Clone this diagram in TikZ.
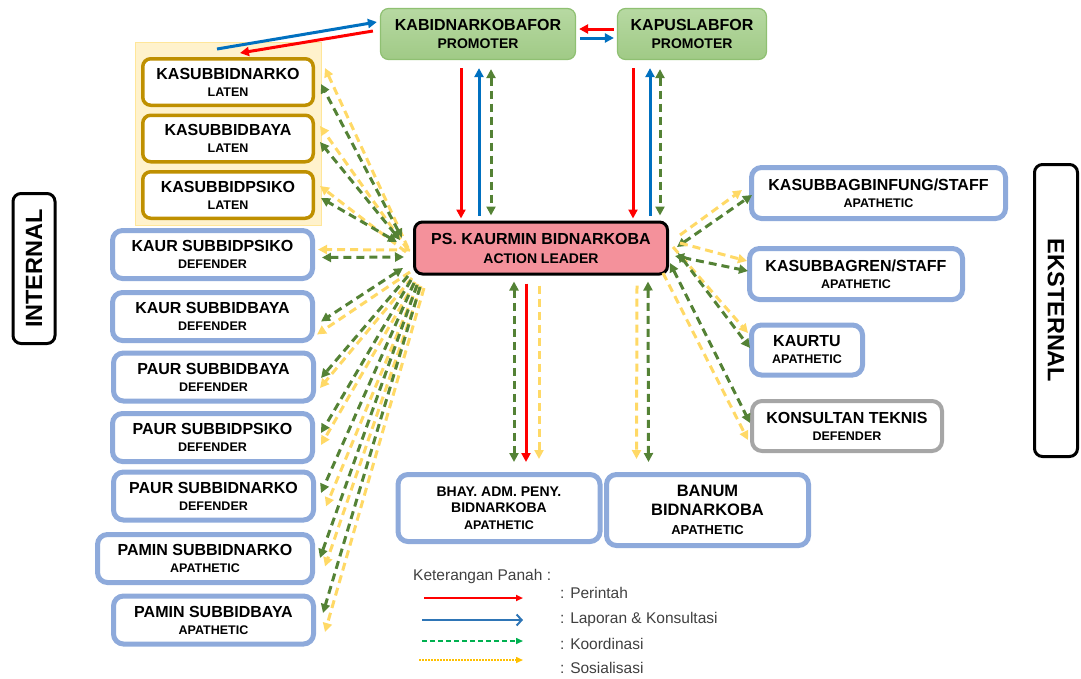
\documentclass[tikz,border=0pt]{standalone}
\usepackage{fontspec}
\setmainfont{Liberation Sans}
\usetikzlibrary{arrows.meta,calc}
\definecolor{bluebd}{HTML}{8EAADB}
\definecolor{goldbd}{HTML}{BF9000}
\definecolor{graybd}{HTML}{A6A6A6}
\definecolor{grn}{HTML}{548235}
\definecolor{ylw}{HTML}{FFD966}
\definecolor{rd}{HTML}{FF0000}
\definecolor{bl}{HTML}{0070C0}
\definecolor{leadfill}{HTML}{F4919B}
\definecolor{grpfill}{HTML}{FFF2CC}
\definecolor{grpbd}{HTML}{FFE699}
\definecolor{promtop}{HTML}{B7D9A2}
\definecolor{prombot}{HTML}{A0CA86}
\definecolor{prombd}{HTML}{8FC072}
\definecolor{legblue}{HTML}{2E75B6}
\definecolor{leggreen}{HTML}{00B050}
\definecolor{legyel}{HTML}{FFC000}
\definecolor{legtxt}{HTML}{404040}
\newcommand{\mytitle}{\fontsize{16}{17}\selectfont\bfseries}
\newcommand{\mysub}{\fontsize{12.5}{17}\selectfont\bfseries}
\tikzset{
  bbox/.style={draw=bluebd, line width=5pt, rounded corners=10pt, fill=white, align=center, inner sep=0pt, font=\mytitle},
  gbox/.style={draw=goldbd, line width=3.5pt, rounded corners=8pt, fill=white, align=center, inner sep=0pt,
     minimum width=170.5pt, minimum height=46.5pt, font=\mytitle},
  pbox/.style={draw=prombd, line width=1.2pt, rounded corners=8pt, top color=promtop, bottom color=prombot,
     align=center, inner sep=0pt, minimum height=51pt, font=\fontsize{16}{18}\selectfont\bfseries},
  sidebox/.style={draw=black, line width=3pt, rounded corners=8pt, fill=white, inner sep=0pt,
     font=\fontsize{23.5}{24}\selectfont\bfseries},
  gline/.style={draw=grn, line width=3pt, dash pattern=on 8pt off 5pt},
  yline/.style={draw=ylw, line width=3pt, dash pattern=on 8pt off 5pt},
  rline/.style={draw=rd, line width=3pt},
  bline/.style={draw=bl, line width=3pt},
  legtext/.style={text=legtxt, font=\fontsize{15.5}{17}\selectfont, inner sep=0pt, anchor=west},
  >={Triangle[length=9pt,width=9pt]}
}
\begin{document}
\begin{tikzpicture}[x=1pt,y=-1pt]
\useasboundingbox (0,0) rectangle (1081,678);

% group background
\node[draw=grpbd, line width=1pt, fill=grpfill, minimum width=186pt, minimum height=183pt, inner sep=0pt] (latengrp) at (228.5,134) {};

% top promoter boxes
\node[pbox, minimum width=195pt] (kabid) at (478,34) {KABIDNARKOBAFOR\\\fontsize{14}{17}\selectfont\bfseries PROMOTER};
\node[pbox, minimum width=149pt] (kapus) at (692,34) {KAPUSLABFOR\\\fontsize{14}{17}\selectfont\bfseries PROMOTER};

% laten boxes
\node[gbox] (ksnarko) at (228,82) {KASUBBIDNARKO\\\mysub LATEN};
\node[gbox] (ksbaya) at (228,138.5) {KASUBBIDBAYA\\\mysub LATEN};
\node[gbox] (kspsiko) at (228,195) {KASUBBIDPSIKO\\\mysub LATEN};

% internal boxes
\node[bbox, minimum width=200pt, minimum height=48pt] (kaurpsiko) at (212.5,254.5) {KAUR SUBBIDPSIKO\\\mysub DEFENDER};
\node[bbox, minimum width=200pt, minimum height=48pt] (kaurbaya) at (212.5,316.5) {KAUR SUBBIDBAYA\\\mysub DEFENDER};
\node[bbox, minimum width=200pt, minimum height=48pt] (paurbaya) at (213.5,377) {PAUR SUBBIDBAYA\\\mysub DEFENDER};
\node[bbox, minimum width=200pt, minimum height=48pt] (paurpsiko) at (212.5,437.5) {PAUR SUBBIDPSIKO\\\mysub DEFENDER};
\node[bbox, minimum width=200pt, minimum height=48pt] (paurnarko) at (213.5,496) {PAUR SUBBIDNARKO\\\mysub DEFENDER};
\node[bbox, minimum width=215pt, minimum height=48pt] (paminnarko) at (205,558.5) {PAMIN SUBBIDNARKO\\\mysub APATHETIC};
\node[bbox, minimum width=200pt, minimum height=48pt] (paminbaya) at (213.5,620) {PAMIN SUBBIDBAYA\\\mysub APATHETIC};

% side labels
\node[sidebox, rotate=90, minimum width=150pt, minimum height=42pt] (internal) at (34,268.5) {INTERNAL};
\node[sidebox, rotate=-90, minimum width=292pt, minimum height=43pt] (eksternal) at (1056,310.5) {EKSTERNAL};

% leader
\node[draw=black, line width=3pt, rounded corners=8pt, fill=leadfill, align=center, inner sep=0pt,
      minimum width=253pt, minimum height=52pt, font=\fontsize{16}{19}\selectfont\bfseries] (lead) at (541,248)
      {PS. KAURMIN BIDNARKOBA\\\fontsize{14}{19}\selectfont\bfseries ACTION LEADER};

% external boxes
\node[bbox, minimum width=254pt, minimum height=51pt] (binfung) at (878.5,193) {KASUBBAGBINFUNG/STAFF\\\mysub APATHETIC};
\node[bbox, minimum width=213pt, minimum height=51pt] (gren) at (856,274) {KASUBBAGREN/STAFF\\\mysub APATHETIC};
\node[bbox, minimum width=111pt, minimum height=50pt] (kaurtu) at (807,350) {KAURTU\\\mysub APATHETIC};
\node[bbox, draw=graybd, line width=4pt, minimum width=190pt, minimum height=50pt] (konsultan) at (847,426) {KONSULTAN TEKNIS\\\mysub DEFENDER};

% bottom boxes
\node[bbox, minimum width=202pt, minimum height=67pt, font=\fontsize{14}{16.5}\selectfont\bfseries] (bhay) at (499,508) {BHAY. ADM. PENY.\\BIDNARKOBA\\\mysub APATHETIC};
\node[bbox, minimum width=202pt, minimum height=71pt, font=\fontsize{16.5}{19}\selectfont\bfseries] (banum) at (707.5,510) {BANUM\\BIDNARKOBA\\\fontsize{13}{17}\selectfont\bfseries APATHETIC};

% ---- top arrows
\draw[bline,->] ($(latengrp.north west)+(82,7)$) -- ($(kabid.west)+(-3,-12)$);
\draw[rline,->] ($(kabid.west)+(-7,-3)$) -- ($(latengrp.north west)+(105,11)$);
\draw[rline,->] ($(kapus.west)+(-3,-5)$) -- ($(kabid.east)+(3,-5)$);
\draw[bline,->] ($(kabid.east)+(4,4)$) -- ($(kapus.west)+(-3,4)$);

% ---- vertical arrows top
\draw[rline,->] ($(kabid.south)+(-17,8)$) -- ($(lead.north)+(-80,-2)$);
\draw[bline,->] ($(lead.north)+(-62,-5)$) -- ($(kabid.south)+(1,8)$);
\draw[gline,<->] ($(kabid.south)+(13,9)$) -- ($(lead.north)+(-50,-5)$);
\draw[rline,->] ($(kapus.south)+(-59,8)$) -- ($(lead.north)+(92,-2)$);
\draw[bline,->] ($(lead.north)+(109,-5)$) -- ($(kapus.south)+(-42,8)$);
\draw[gline,<->] ($(kapus.south)+(-32,9)$) -- ($(lead.north)+(119,-5)$);

% ---- vertical arrows bottom
\draw[gline,<->] ($(lead.south)+(-27,6)$) -- ($(bhay.north)+(15,-10)$);
\draw[rline,->] ($(lead.south)+(-15,8)$) -- ($(bhay.north)+(27,-10)$);
\draw[yline,->] ($(lead.south)+(-2,10)$) -- ($(bhay.north)+(40,-13)$);
\draw[yline,->] ($(lead.south)+(96,10)$) -- ($(banum.north)+(-71,-13)$);
\draw[gline,<->] ($(lead.south)+(107,6)$) -- ($(banum.north)+(-59,-10)$);

% ---- left fan
\draw[yline,->] ($(lead.west)+(-5,0)$) -- ($(ksnarko.east)+(10,-14)$);
\draw[gline,<->] ($(lead.west)+(-11,-10)$) -- ($(ksnarko.east)+(6,2)$);
\draw[yline,->] ($(lead.west)+(-5,2)$) -- ($(ksbaya.east)+(5,-12.5)$);
\draw[gline,<->] ($(lead.west)+(-13,-8)$) -- ($(ksbaya.east)+(5,3.5)$);
\draw[yline,->] ($(lead.west)+(-7,4)$) -- ($(kspsiko.east)+(5,-9)$);
\draw[gline,<->] ($(lead.west)+(-16,-6)$) -- ($(kspsiko.east)+(6,3)$);
\draw[yline,->] ($(lead.west)+(-3,2)$) -- ($(kaurpsiko.east)+(3,-5)$);
\draw[gline,<->] ($(kaurpsiko.east)+(7,3)$) -- ($(lead.west)+(-9,9)$);
\draw[yline,->] ($(lead.west)+(-3,24)$) -- ($(kaurbaya.east)+(2,18)$);
\draw[gline,<->] ($(lead.west)+(-10,20)$) -- ($(kaurbaya.east)+(6,5)$);
\draw[yline,->] ($(lead.west)+(-1,30)$) -- ($(paurbaya.east)+(4,11)$);
\draw[gline,->] ($(lead.west)+(-5,28)$) -- ($(paurbaya.east)+(5,1)$);
\draw[yline,->] ($(lead.west)+(2,34)$) -- ($(paurpsiko.east)+(6,7.5)$);
\draw[gline,->] ($(lead.west)+(-2,32)$) -- ($(paurpsiko.east)+(6,-4.5)$);
\draw[yline,->] ($(lead.west)+(5,36)$) -- ($(paurnarko.east)+(10,10.5)$);
\draw[gline,->] ($(lead.west)+(1,35)$) -- ($(paurnarko.east)+(5,-3)$);
\draw[yline,->] ($(lead.west)+(8,38)$) -- ($(paminnarko.east)+(10,8)$);
\draw[gline,->] ($(lead.west)+(4,37)$) -- ($(paminnarko.east)+(5,-0.5)$);
\draw[yline,->] ($(lead.west)+(11,40)$) -- ($(paminbaya.east)+(9,12)$);
\draw[gline,->] ($(lead.west)+(7,39)$) -- ($(paminbaya.east)+(7,-7)$);

% ---- right fan
\draw[yline,->] ($(lead.east)+(11,-13)$) -- ($(binfung.west)+(-7,-3)$);
\draw[gline,<->] ($(lead.east)+(8,-1)$) -- ($(binfung.west)+(3,2)$);
\draw[yline,->] ($(lead.east)+(11,-5)$) -- ($(gren.west)+(0,-13)$);
\draw[gline,<->] ($(lead.east)+(6,8)$) -- ($(gren.west)+(1,-3)$);
\draw[yline,->] ($(lead.east)+(4,-1)$) -- ($(kaurtu.west)+(-1,-17)$);
\draw[gline,<->] ($(lead.east)+(9,5)$) -- ($(kaurtu.west)+(1,-2)$);
\draw[gline,<->] ($(lead.east)+(1,15)$) -- ($(konsultan.west)+(0,-3)$);
\draw[yline,->] ($(lead.east)+(-6,25)$) -- ($(konsultan.west)+(-2,14)$);

% ---- legend
\node[legtext] (legtitle) at (413,576) {Keterangan Panah :};
\coordinate (l1a) at (424,598); \coordinate (l1b) at (523,598);
\coordinate (l2a) at (422,620); \coordinate (l2b) at (523,620);
\coordinate (l3a) at (422,641); \coordinate (l3b) at (523,641);
\coordinate (l4a) at (419,660); \coordinate (l4b) at (523,660);
\draw[draw=rd, line width=2pt, -{Triangle[length=7pt,width=6pt]}] (l1a) -- (l1b);
\draw[draw=legblue, line width=2pt, -{Straight Barb[length=5pt,width=11pt,line width=2pt]}] (l2a) -- (l2b);
\draw[draw=leggreen, line width=1.5pt, dash pattern=on 5pt off 3pt, -{Triangle[length=7pt,width=6pt]}] (l3a) -- (l3b);
\draw[draw=legyel, line width=1.5pt, dash pattern=on 1.5pt off 1.5pt, -{Triangle[length=7pt,width=6pt]}] (l4a) -- (l4b);
\node[legtext] (leg1) at (560,593) {: Perintah};
\node[legtext] (leg2) at (560,619) {: Laporan \& Konsultasi};
\node[legtext] (leg3) at (560,644) {: Koordinasi};
\node[legtext] (leg4) at (560,668) {: Sosialisasi};
\end{tikzpicture}
\end{document}
